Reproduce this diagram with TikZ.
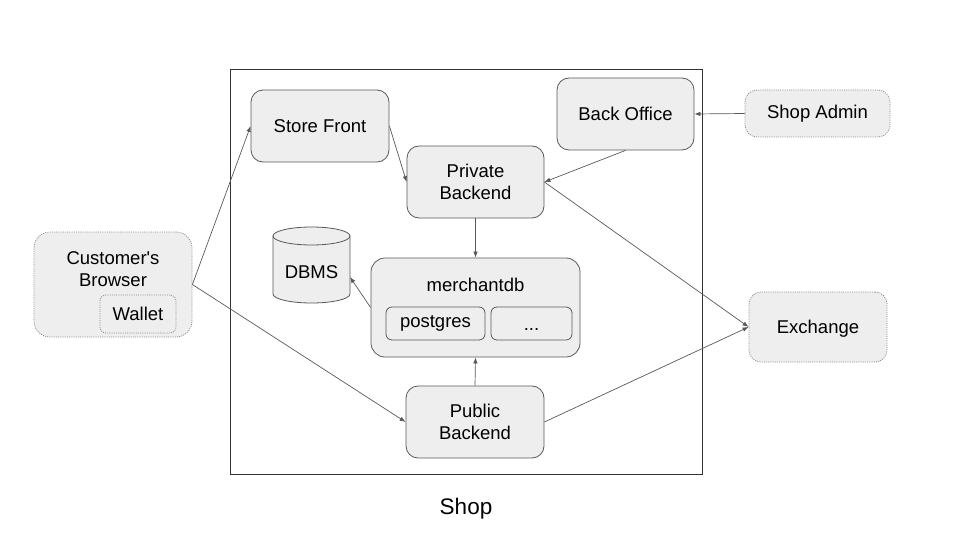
\documentclass[tikz,border=0pt]{standalone}
\usepackage{fontspec}
\setmainfont{Liberation Sans}[Ligatures=TeXOff]
\usetikzlibrary{arrows.meta}
\definecolor{boxfill}{HTML}{EEEEEE}
\definecolor{boxline}{HTML}{595959}
\definecolor{dotline}{HTML}{8A8A8A}
\definecolor{arrowc}{HTML}{595959}
\tikzset{
  comp/.style={draw=boxline, fill=boxfill, line width=0.8pt, rounded corners=12pt, inner sep=0pt, align=center, font=\fontsize{18.5}{22}\selectfont},
  extbox/.style={draw=dotline, fill=boxfill, line width=0.8pt, dash pattern=on 1pt off 1.2pt, rounded corners=12pt, inner sep=0pt, align=center, font=\fontsize{18.5}{22}\selectfont},
  smallbox/.style={draw=boxline, fill=boxfill, line width=0.8pt, rounded corners=6pt, inner sep=0pt, align=center, font=\fontsize{18.5}{22}\selectfont},
  lbl/.style={inner sep=0pt, align=center, font=\fontsize{18.5}{22}\selectfont},
  conn/.style={draw=arrowc, line width=0.7pt, -{Latex[length=6pt,width=4.5pt]}},
}
\begin{document}
\begin{tikzpicture}[x=1pt,y=-1pt]
\useasboundingbox (0,0) rectangle (960,540);
% Shop frame
\node[draw=black!80, line width=0.8pt, minimum width=472pt, minimum height=405pt, inner sep=0pt] (shop) at (466,271.5) {};
\node[lbl, font=\fontsize{22.5}{26}\selectfont] (shoplabel) at (466,509) {Shop};
% components
\node[comp, minimum width=138pt, minimum height=72pt] (storefront) at (320,126) {Store Front};
\node[comp, minimum width=137pt, minimum height=72pt] (backoffice) at (625.5,114) {Back Office};
\node[extbox, minimum width=145pt, minimum height=47pt] (shopadmin) at (817.5,113.5) {Shop Admin};
\node[comp, minimum width=137pt, minimum height=72pt] (private) at (475.5,182) {Private\\Backend};
\node[comp, rounded corners=14pt, minimum width=209pt, minimum height=99pt] (merchantdb) at (475.5,307.5) {};
\node[lbl] (mdblabel) at (475.5,285) {merchantdb};
\node[smallbox, minimum width=99pt, minimum height=33pt] (postgres) at (435.5,323.5) {postgres};
\node[smallbox, minimum width=81pt, minimum height=33pt] (dots) at (531.5,323.5) {};
\node[lbl, anchor=base] (dotslabel) at (531.5,330) {...};
\node[comp, minimum width=138pt, minimum height=72pt] (public) at (475,422) {Public\\Backend};
\node[extbox, rounded corners=16pt, minimum width=158pt, minimum height=105pt] (browser) at (113,284.5) {};
\node[lbl] (browserlabel) at (113,269) {Customer's\\Browser};
\node[extbox, rounded corners=6pt, minimum width=76pt, minimum height=38pt] (wallet) at (138,314) {Wallet};
\node[extbox, minimum width=138pt, minimum height=70pt, text depth=0pt] (exchange) at (818,327) {Exchange};
% DBMS cylinder
\filldraw[draw=boxline, fill=boxfill, line width=0.8pt]
  (273,236) -- (273,294) arc (180:360:38.5pt and 9pt) -- (350,236) arc (0:180:38.5pt and 9pt) -- cycle;
\draw[draw=boxline, line width=0.8pt] (273,236) arc (180:360:38.5pt and 9pt);
\node[lbl] (dbms) at (311.5,272) {DBMS};
\coordinate (dbmsin) at (350,277);
% connectors
\draw[conn] (browser.east) -- (storefront.west);
\draw[conn] (browser.east) -- (public.west);
\draw[conn] (storefront.east) -- (private.west);
\draw[conn] (backoffice.south) -- (private.east);
\draw[conn] (shopadmin.west) -- (backoffice.east);
\draw[conn] (private.east) -- (exchange.west);
\draw[conn] (public.east) -- (exchange.west);
\draw[conn] (private.south) -- (merchantdb.north);
\draw[conn] (public.north) -- (merchantdb.south);
\draw[conn] (merchantdb.west) -- (dbmsin);
\end{tikzpicture}
\end{document}
